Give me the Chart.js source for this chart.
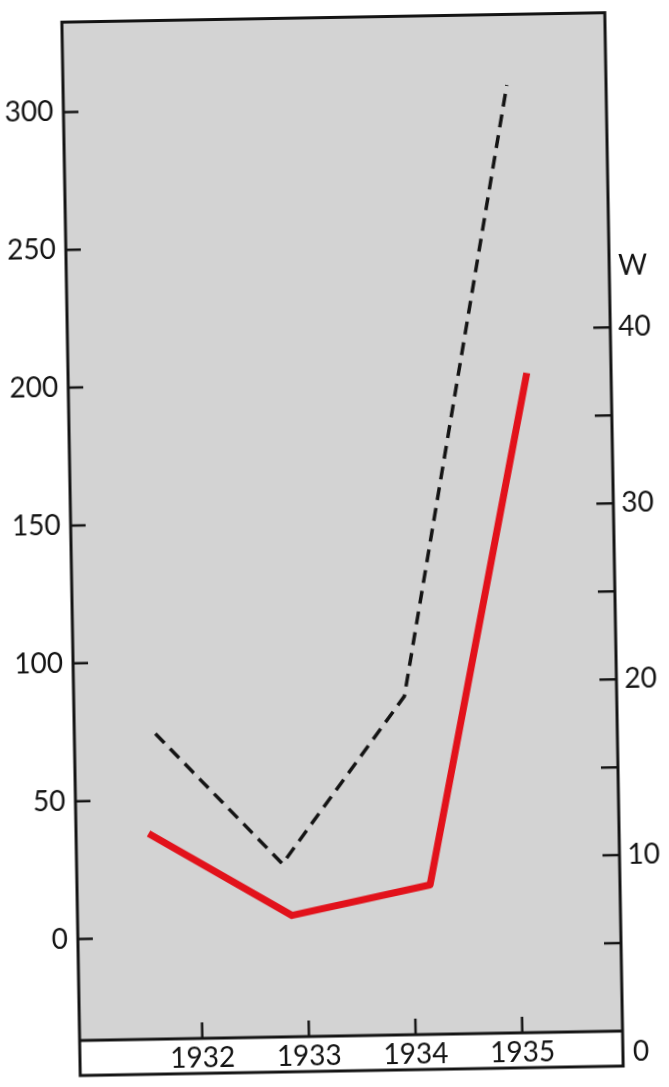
<!DOCTYPE html>
<html>
<head>
<meta charset="utf-8">
<script src="https://cdn.jsdelivr.net/npm/chart.js@4.4.1/dist/chart.umd.min.js"></script>
<style>
  html, body { margin: 0; padding: 0; background: #fff; overflow: hidden; }
  #wrap { width: 669px; height: 1087px; }
  /* the scan is turned by about one degree */
  #chart { transform: rotate(-1deg); transform-origin: 50% 50%; }
</style>
</head>
<body>
<div id="wrap"><canvas id="chart" width="669" height="1087"></canvas></div>
<script>
/* DATA */
const yearTicks = [1932, 1933, 1934, 1935];
const leftTicks = [0, 50, 100, 150, 200, 250, 300];
const rightTicks = [5, 10, 15, 20, 25, 30, 35, 40];
const rightLabels = [10, 20, 30, 40];

// dashed black series, left scale
const dashedX = [1931.61, 1932.78, 1933.95, 1935.01];
const dashedY = [74, 26, 86, 307];

// red series, right scale W
const redX = [1931.53, 1932.86, 1934.16, 1935.15];
const redW = [11.7, 6.9, 8.5, 37.5];

const ink = '#141414';

const frame = {
  id: 'frame',
  beforeDraw(chart) {
    const { ctx, chartArea: a } = chart;
    ctx.save();
    ctx.fillStyle = '#d3d3d3';
    ctx.fillRect(a.left, a.top, a.right - a.left, a.bottom - a.top);
    ctx.restore();
  },
  afterDraw(chart) {
    const { ctx, chartArea: a, scales } = chart;
    const stripBottom = a.bottom + 35;
    ctx.save();
    ctx.strokeStyle = ink;
    ctx.lineWidth = 2.5;
    ctx.beginPath();
    leftTicks.forEach(v => {
      const y = scales.y.getPixelForValue(v);
      ctx.moveTo(a.left, y); ctx.lineTo(a.left + 15, y);
    });
    rightTicks.forEach(v => {
      const y = scales.y1.getPixelForValue(v);
      ctx.moveTo(a.right, y); ctx.lineTo(a.right - 17, y);
    });
    yearTicks.forEach(v => {
      const x = scales.x.getPixelForValue(v);
      ctx.moveTo(x, a.bottom); ctx.lineTo(x, a.bottom - 16);
    });
    ctx.stroke();

    // frame and the white strip under the plot
    ctx.lineWidth = 3;
    ctx.strokeRect(a.left, a.top, a.right - a.left, stripBottom - a.top);
    ctx.beginPath();
    ctx.moveTo(a.left, a.bottom); ctx.lineTo(a.right, a.bottom);
    ctx.stroke();

    ctx.fillStyle = ink;
    ctx.font = '28px Lato';
    ctx.textAlign = 'left';
    ctx.textBaseline = 'middle';
    ctx.fillText('W', a.right + 9, scales.y1.getPixelForValue(43.5));
    ctx.fillText('0', a.right + 10, scales.y1.getPixelForValue(0) + 21);
    ctx.restore();
  }
};

Chart.defaults.font.family = 'Lato';
Chart.defaults.font.size = 28;
Chart.defaults.color = ink;

new Chart(document.getElementById('chart'), {
  type: 'line',
  data: {
    datasets: [
      {
        label: 'dashed',
        data: dashedX.map((x, i) => ({ x: x, y: dashedY[i] })),
        yAxisID: 'y',
        borderColor: ink,
        borderWidth: 3.5,
        borderDash: [13, 8],
        pointRadius: 0,
        tension: 0
      },
      {
        label: 'W',
        data: redX.map((x, i) => ({ x: x, y: redW[i] })),
        yAxisID: 'y1',
        borderColor: '#e2121b',
        borderWidth: 7,
        borderJoinStyle: 'round',
        pointRadius: 0,
        tension: 0
      }
    ]
  },
  options: {
    responsive: false,
    animation: false,
    events: [],
    layout: { padding: { top: 17.5, left: 0, right: 0, bottom: 0 } },
    plugins: { legend: { display: false }, tooltip: { enabled: false } },
    scales: {
      x: {
        type: 'linear',
        min: 1930.85,
        max: 1935.94,
        afterFit: s => { s.height = 51; },
        afterBuildTicks: s => { s.ticks = yearTicks.map(v => ({ value: v })); },
        grid: { display: false, drawTicks: false },
        border: { display: false },
        ticks: { padding: 3, maxRotation: 0, callback: v => String(v) }
      },
      y: {
        position: 'left',
        min: -36.8,
        max: 332.6,
        afterFit: s => { s.width = 71; s.paddingTop = 0; s.paddingBottom = 0; },
        afterBuildTicks: s => { s.ticks = leftTicks.map(v => ({ value: v })); },
        grid: { display: false, drawTicks: false },
        border: { display: false },
        ticks: { padding: 10, font: { size: 28, lineHeight: 0.5 }, callback: v => String(v) }
      },
      y1: {
        position: 'right',
        min: 0,
        max: 57.9,
        afterFit: s => { s.width = 55; s.paddingTop = 0; s.paddingBottom = 0; },
        afterBuildTicks: s => { s.ticks = rightTicks.map(v => ({ value: v })); },
        grid: { display: false, drawTicks: false },
        border: { display: false },
        ticks: { padding: 8, font: { size: 28, lineHeight: 0.5 }, callback: v => rightLabels.includes(v) ? String(v) : '' }
      }
    }
  },
  plugins: [frame]
});
</script>
</body>
</html>
